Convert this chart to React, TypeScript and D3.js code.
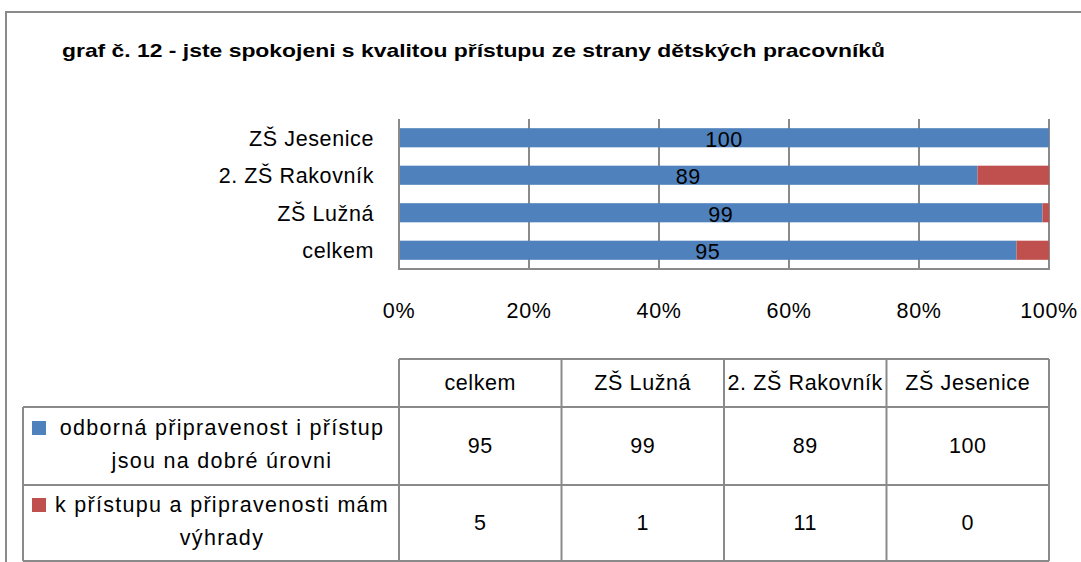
import React, { useRef, useEffect } from "react";
import * as d3 from "d3";

const title = "graf č. 12 - jste spokojeni s kvalitou přístupu ze strany dětských pracovníků";
const categories = ["celkem", "ZŠ Lužná", "2. ZŠ Rakovník", "ZŠ Jesenice"];
const seriesNames = [
  ["odborná připravenost i přístup", "jsou na dobré úrovni"],
  ["k přístupu a připravenosti mám", "výhrady"],
];
const goodValues = [95, 99, 89, 100];
const badValues = [5, 1, 11, 0];
const xTicks = [0, 0.2, 0.4, 0.6, 0.8, 1];
const colors = ["#4F81BD", "#C0504D"];

const FONT = "'Liberation Sans', Arial, sans-serif";
const FS = 21.5;
const LS = 0.6;

const App = () => {
  const svgRef = useRef<SVGSVGElement>(null);

  useEffect(() => {
    const svg = d3.select(svgRef.current);
    svg.selectAll("*").remove();

    const rows = categories.map((c, i) => ({ cat: c, good: goodValues[i], bad: badValues[i] }));
    const stacked = d3.stack<any>().keys(["good", "bad"]).offset(d3.stackOffsetExpand)(rows);

    const x = d3.scaleLinear().domain([0, 1]).range([399, 1049]);
    const y = d3.scaleBand().domain([...categories].reverse()).range([119, 269]).paddingInner(0.49).paddingOuter(0.245);
    const grey = "#8a8a8a";

    const txt = (g: any) =>
      g.attr("font-family", FONT).attr("font-size", FS).attr("letter-spacing", LS)
        .attr("dominant-baseline", "central").attr("fill", "#000");

    // outer frame
    svg.append("rect").attr("x", 6).attr("y", 12).attr("width", 1200).attr("height", 700)
      .attr("fill", "#fff").attr("stroke", grey).attr("stroke-width", 2);

    svg.append("text").attr("x", 62).attr("y", 57).attr("font-family", FONT)
      .attr("font-weight", "bold").attr("font-size", 19)
      .attr("textLength", 823).attr("lengthAdjust", "spacingAndGlyphs").text(title);

    // gridlines
    svg.append("g").selectAll("line").data(xTicks.slice(1)).join("line")
      .attr("x1", (d) => x(d)).attr("x2", (d) => x(d)).attr("y1", 119).attr("y2", 269)
      .attr("stroke", grey).attr("stroke-width", 2);

    // bars
    svg.append("g").selectAll("g").data(stacked).join("g")
      .attr("fill", (d, i) => colors[i])
      .selectAll("rect").data((d) => d).join("rect")
      .attr("x", (d) => x(d[0])).attr("width", (d) => x(d[1]) - x(d[0]))
      .attr("y", (d) => y(d.data.cat)!).attr("height", y.bandwidth());

    // data labels on first series
    svg.append("g").selectAll("text").data(stacked[0]).join("text")
      .call(txt)
      .attr("x", (d) => (x(d[0]) + x(d[1])) / 2)
      .attr("y", (d) => y(d.data.cat)! + y.bandwidth() / 2 + 2)
      .attr("text-anchor", "middle")
      .text((d) => d.data.good);

    // axes lines
    svg.append("line").attr("x1", 399).attr("x2", 399).attr("y1", 119).attr("y2", 270)
      .attr("stroke", grey).attr("stroke-width", 2);
    svg.append("line").attr("x1", 398).attr("x2", 1050).attr("y1", 269).attr("y2", 269)
      .attr("stroke", grey).attr("stroke-width", 2);

    // category labels
    svg.append("g").selectAll("text").data(categories).join("text")
      .call(txt)
      .attr("x", 374).attr("y", (d) => y(d)! + y.bandwidth() / 2 + 1)
      .attr("text-anchor", "end").text((d) => d);

    // tick labels
    svg.append("g").selectAll("text").data(xTicks).join("text")
      .call(txt)
      .attr("x", (d) => x(d)).attr("y", 311)
      .attr("text-anchor", "middle").text(d3.format(".0%"));

    // data table
    const col = d3.scaleBand().domain(categories).range([399, 1049]);
    const tbl = svg.append("g").attr("stroke", grey).attr("stroke-width", 2);
    const rowY = [359, 407, 485, 561];
    tbl.append("line").attr("x1", 399).attr("x2", 1049).attr("y1", rowY[0]).attr("y2", rowY[0]);
    rowY.slice(1).forEach((yy) => tbl.append("line").attr("x1", 23).attr("x2", 1049).attr("y1", yy).attr("y2", yy));
    tbl.append("line").attr("x1", 23).attr("x2", 23).attr("y1", rowY[1]).attr("y2", rowY[3]);
    [...categories.map((c) => col(c)!), 1049].forEach((xx) =>
      tbl.append("line").attr("x1", xx).attr("x2", xx).attr("y1", rowY[0]).attr("y2", rowY[3]));

    svg.append("g").selectAll("text").data(categories).join("text")
      .call(txt)
      .attr("x", (d) => col(d)! + col.bandwidth() / 2).attr("y", 383)
      .attr("text-anchor", "middle").text((d) => d);

    [goodValues, badValues].forEach((vals, r) => {
      const cy = (rowY[r + 1] + rowY[r + 2]) / 2;
      svg.append("g").selectAll("text").data(vals).join("text")
        .call(txt)
        .attr("x", (d, i) => col(categories[i])! + col.bandwidth() / 2).attr("y", cy)
        .attr("text-anchor", "middle").text((d) => d);

      // legend entry
      const cx = 222;
      svg.append("rect").attr("x", 32).attr("y", cy - 25)
        .attr("width", 14).attr("height", 14).attr("fill", colors[r]);
      svg.append("text").call(txt).attr("letter-spacing", 1.3)
        .attr("text-anchor", "middle").attr("x", cx).attr("y", cy - 18).text(seriesNames[r][0]);
      svg.append("text").call(txt).attr("letter-spacing", 1.3)
        .attr("text-anchor", "middle").attr("x", cx).attr("y", cy + 15).text(seriesNames[r][1]);
    });
  }, []);

  return (
    <svg ref={svgRef} width={1081} height={562}
      style={{ position: "absolute", left: 0, top: 0, display: "block" }} />
  );
};

export default App;
